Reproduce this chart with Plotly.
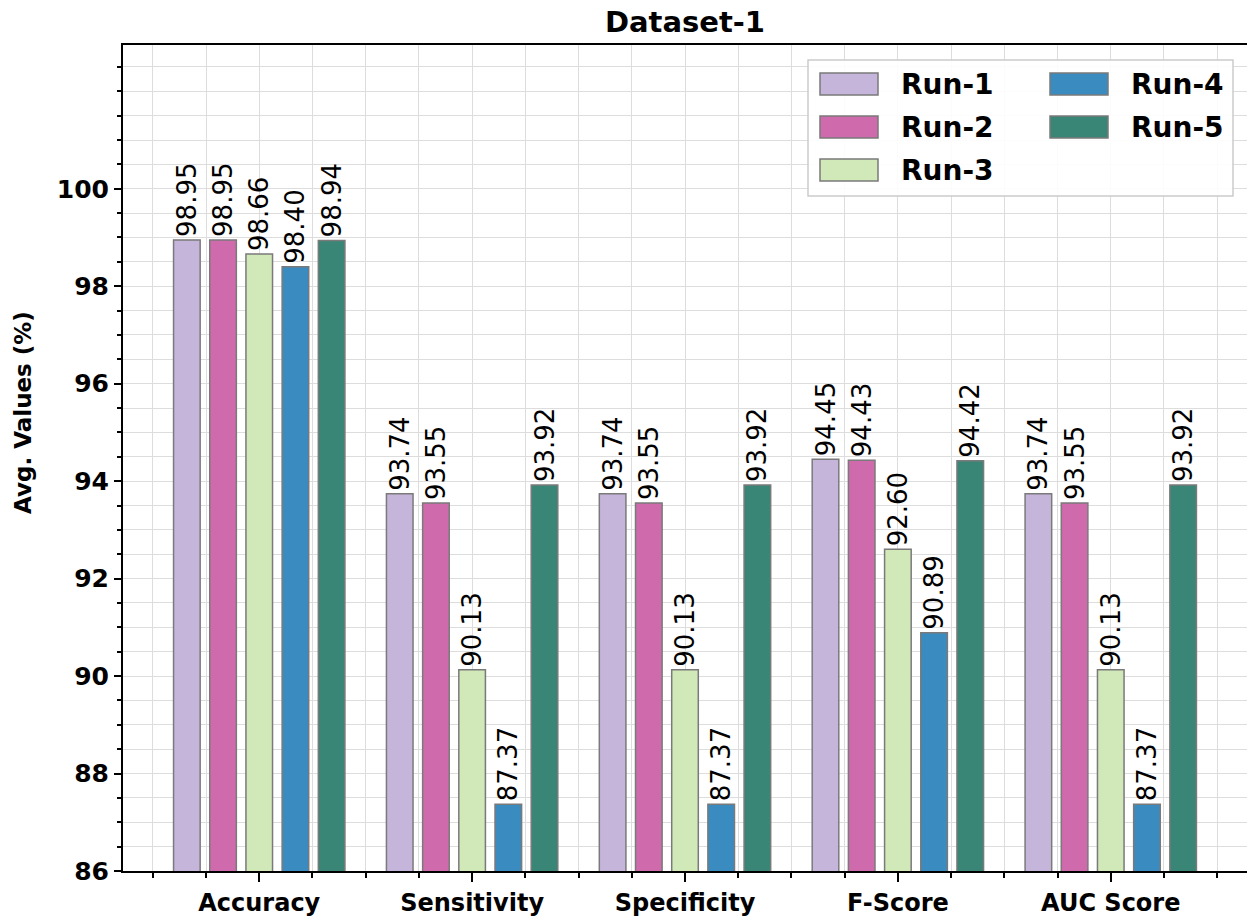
import plotly.graph_objects as go

categories = ["Accuracy", "Sensitivity", "Specificity", "F-Score", "AUC Score"]
runs = ["Run-1", "Run-2", "Run-3", "Run-4", "Run-5"]
run1 = [98.95, 93.74, 93.74, 94.45, 93.74]
run2 = [98.95, 93.55, 93.55, 94.43, 93.55]
run3 = [98.66, 90.13, 90.13, 92.60, 90.13]
run4 = [98.40, 87.37, 87.37, 90.89, 87.37]
run5 = [98.94, 93.92, 93.92, 94.42, 93.92]
series = [run1, run2, run3, run4, run5]
colors = ["#c6b5da", "#cf6aac", "#d1e8b9", "#3a8bc0", "#3a8676"]
ytick_vals = [86, 88, 90, 92, 94, 96, 98, 100]

FONT = "DejaVu Sans"
xpos = list(range(len(categories)))

fig = go.Figure()
for name, vals, col in zip(runs, series, colors):
    fig.add_trace(go.Bar(
        x=xpos, y=vals, name=name,
        marker=dict(color=col, line=dict(color="#7a7a7a", width=1.5)),
        text=[f"{v:.2f}" for v in vals],
        textposition="outside", textangle=-90,
        textfont=dict(family=FONT, size=26, color="black"),
        constraintext="none", cliponaxis=False,
        showlegend=False,
    ))

# page has an 8px body margin; the figure is sized so it fits the window
OFF = 8
W, H = 1255 - OFF, 921 - OFF
# plot area in the screen (reference) pixel coordinates
L, R, T, B = 123, 1247, 45, 871
def px(xp):
    return (xp - L) / (R - L)
def py(yp):
    return (B - yp) / (B - T)

shapes = [dict(type="rect", xref="paper", yref="paper",
               x0=px(808), x1=px(1233), y0=py(196), y1=py(60),
               line=dict(color="#cccccc", width=1.5),
               fillcolor="rgba(255,255,255,0.9)", layer="above")]
annotations = []
for i, (name, col) in enumerate(zip(runs, colors)):
    c, r = divmod(i, 3)
    x0 = [820, 1050][c]
    tx = [899, 1129][c]
    yc = 84 + r * 43
    shapes.append(dict(type="rect", xref="paper", yref="paper",
                       x0=px(x0), x1=px(x0 + 58), y0=py(yc + 11), y1=py(yc - 11),
                       fillcolor=col, line=dict(color="#7a7a7a", width=1.5), layer="above"))
    annotations.append(dict(xref="paper", yref="paper", x=px(tx), y=py(yc),
                            xanchor="left", yanchor="middle", showarrow=False,
                            text=f"<b>{name}</b>",
                            font=dict(family=FONT, size=28, color="black")))

annotations.append(dict(xref="paper", yref="paper", x=px(23), y=py(413),
                        xanchor="center", yanchor="middle", showarrow=False,
                        textangle=-90, text="<b>Avg. Values (%)</b>",
                        font=dict(family=FONT, size=23, color="black")))

fig.update_layout(
    width=W, height=H,
    margin=dict(l=L - OFF, r=1255 - R, t=T - OFF, b=921 - B, autoexpand=False),
    paper_bgcolor="white", plot_bgcolor="white",
    barmode="group", bargap=0.15, bargroupgap=0.265,
    title=dict(text="<b>Dataset-1</b>", x=((L + R) / 2 - OFF) / W, xanchor="center",
               yref="container", y=1.0, yanchor="top", pad=dict(t=4, b=0),
               font=dict(family=FONT, size=29, color="black")),
    font=dict(family=FONT, color="black"),
    shapes=shapes, annotations=annotations,
    xaxis=dict(range=[-0.64, 4.64], tickvals=xpos, ticktext=[f"<b>{c}</b>" for c in categories],
               tickfont=dict(family=FONT, size=24, color="black"), automargin=False,
               ticks="outside", ticklen=9, tickwidth=1.5, tickcolor="black",
               showline=True, linecolor="black", linewidth=2, mirror=True,
               showgrid=True, gridcolor="#dddddd", gridwidth=1, zeroline=False,
               minor=dict(dtick=0.25, tick0=0, ticks="outside", ticklen=5, tickcolor="black",
                          showgrid=True, gridcolor="#dddddd", gridwidth=1)),
    yaxis=dict(range=[86, 102.95], tickvals=ytick_vals, ticktext=[f"<b>{v}</b>" for v in ytick_vals],
               tickfont=dict(family=FONT, size=25, color="black"), automargin=False,
               ticks="outside", ticklen=7, tickwidth=1.5, tickcolor="black",
               showline=True, linecolor="black", linewidth=2, mirror=True,
               showgrid=True, gridcolor="#dddddd", gridwidth=1, zeroline=False,
               minor=dict(dtick=0.5, tick0=86, ticks="outside", ticklen=4, tickcolor="black",
                          showgrid=True, gridcolor="#dddddd", gridwidth=1)),
)

fig.write_html("out.html")
